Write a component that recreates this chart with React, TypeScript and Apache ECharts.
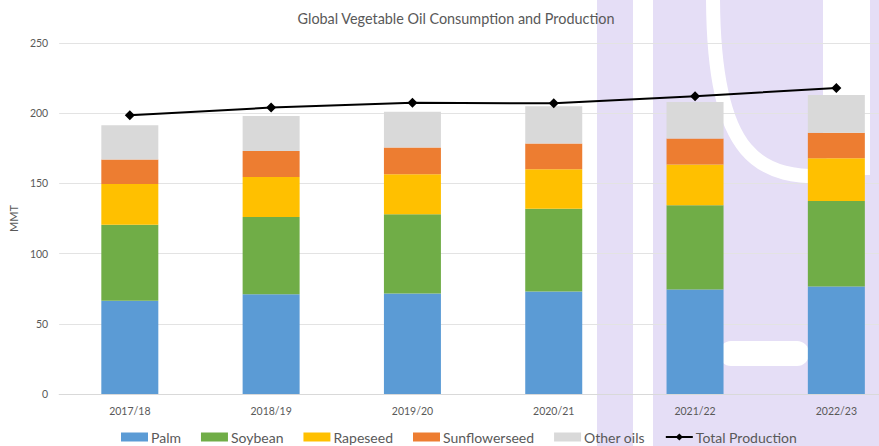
import React, { useEffect, useRef } from "react";
import * as echarts from "echarts";

const categories = ["2017/18", "2018/19", "2019/20", "2020/21", "2021/22", "2022/23"];
const palm = [66.5, 71, 71.5, 73, 74.5, 76.5];
const soybean = [54, 55, 56.5, 59, 60, 61];
const rapeseed = [29, 28.5, 28.5, 28, 29, 30.5];
const sunflowerseed = [17.5, 18.5, 19, 18.5, 18.5, 18];
const otherOils = [24.5, 25, 25.5, 26.5, 26, 27];
const totalProduction = [198.5, 204, 207.5, 207, 212, 218];
const yTicks = { min: 0, max: 250, interval: 50 };

const FONT = "Lato, 'Open Sans', sans-serif";
const TEXT = "#595959";
const WM = "#E5DEF6";

export default function App() {
  const ref = useRef<HTMLDivElement>(null);
  useEffect(() => {
    if (!ref.current) return;
    const chart = echarts.init(ref.current, undefined, { renderer: "svg" });
    const barSeries = (name: string, data: number[], color: string) => ({
      name,
      type: "bar",
      stack: "total",
      data,
      barWidth: 57,
      itemStyle: { color },
      emphasis: { disabled: true },
    });
    chart.setOption({
      animation: false,
      backgroundColor: "#ffffff",
      textStyle: { fontFamily: FONT },
      graphic: [
        { type: "rect", z: -10, shape: { x: 597, y: 0, width: 36, height: 446 }, style: { fill: WM } },
        { type: "rect", z: -10, shape: { x: 653, y: 0, width: 260, height: 446 }, style: { fill: WM } },
        { type: "rect", z: -9, shape: { x: 823, y: 0, width: 47, height: 175, r: [0, 0, 0, 30] }, style: { fill: "#ffffff" } },
        {
          type: "bezierCurve",
          z: -9,
          shape: { x1: 713, y1: -5, cpx1: 713, cpy1: 160, cpx2: 760, cpy2: 180, x2: 835, y2: 176 },
          style: { stroke: "#ffffff", lineWidth: 14, fill: "none" },
        },
        { type: "rect", z: -9, shape: { x: 719, y: 341, width: 90, height: 25, r: 12 }, style: { fill: "#ffffff" } },
      ],
      title: {
        text: "Global Vegetable Oil Consumption and Production",
        left: 451,
        textAlign: "center",
        top: 6,
        textStyle: { fontFamily: FONT, fontSize: 14.4, fontWeight: "normal", color: TEXT },
      },
      legend: {
        left: 116,
        top: 425,
        itemWidth: 27,
        itemHeight: 9,
        itemGap: 20,
        textStyle: { fontFamily: FONT, fontSize: 14, color: TEXT, padding: [0, 0, 0, -2] },
        data: [
          { name: "Palm", icon: "rect" },
          { name: "Soybean", icon: "rect" },
          { name: "Rapeseed", icon: "rect" },
          { name: "Sunflowerseed", icon: "rect" },
          { name: "Other oils", icon: "rect" },
          { name: "Total Production" },
        ],
      },
      grid: { left: 56, top: 43, bottom: 52, right: 0, containLabel: false },
      xAxis: {
        type: "category",
        data: categories,
        axisTick: { show: false },
        axisLine: { lineStyle: { color: "#D9D9D9", width: 1 } },
        axisLabel: { color: TEXT, fontSize: 10.5, margin: 11, fontFamily: FONT },
      },
      yAxis: {
        type: "value",
        min: yTicks.min,
        max: yTicks.max,
        interval: yTicks.interval,
        name: "MMT",
        nameLocation: "middle",
        nameGap: 39,
        nameRotate: 90,
        nameTextStyle: { color: TEXT, fontSize: 11, fontFamily: FONT },
        axisLabel: { color: TEXT, fontSize: 10.5, margin: 11, fontFamily: FONT },
        axisLine: { show: false },
        axisTick: { show: false },
        splitLine: { lineStyle: { color: "#E3E3E3", width: 1 } },
      },
      series: [
        barSeries("Palm", palm, "#5B9BD5"),
        barSeries("Soybean", soybean, "#70AD47"),
        barSeries("Rapeseed", rapeseed, "#FFC000"),
        barSeries("Sunflowerseed", sunflowerseed, "#ED7D31"),
        barSeries("Other oils", otherOils, "#D9D9D9"),
        {
          name: "Total Production",
          type: "line",
          data: totalProduction,
          symbol: "diamond",
          symbolSize: 10,
          lineStyle: { color: "#000000", width: 2 },
          itemStyle: { color: "#000000" },
          emphasis: { disabled: true },
          z: 5,
        },
      ],
    });
    return () => chart.dispose();
  }, []);
  return (
    <div
      ref={ref}
      style={{ position: "fixed", left: 0, top: 0, width: 907, height: 446 }}
    />
  );
}
